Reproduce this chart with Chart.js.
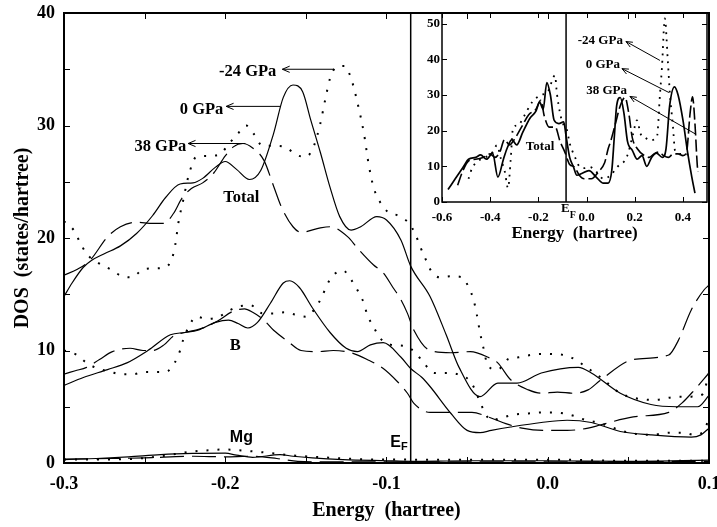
<!DOCTYPE html>
<html>
<head>
<meta charset="utf-8">
<script src="https://cdn.jsdelivr.net/npm/chart.js@4/dist/chart.umd.min.js"></script>
<style>
html, body { margin: 0; padding: 0; background: #fff; }
#wrap { position: relative; width: 717px; height: 527px; }
#main { position: absolute; left: 0; top: 0; }
#inset { position: absolute; left: 412px; top: 0; }
</style>
</head>
<body>
<div id="wrap">
<canvas id="main" width="717" height="527"></canvas>
<canvas id="inset" width="296" height="250"></canvas>
</div>
<script>
// points are [energy (hartree), DOS (states/hartree)]
// solid = 0 GPa, dashed = 38 GPa, dotted = -24 GPa

const totalP0 = [[-0.3,14.8],[-0.295,16.0],[-0.288,17.4],[-0.283,18.0],[-0.275,18.6],[-0.265,19.3],[-0.255,20.4],
  [-0.245,22.0],[-0.237,23.6],[-0.228,24.8],[-0.22,24.9],[-0.214,25.3],[-0.206,26.3],[-0.2,26.8],[-0.193,26.1],
  [-0.185,25.2],[-0.178,26.0],[-0.17,29.3],[-0.164,32.5],[-0.158,33.6],[-0.152,33.0],[-0.147,30.5],[-0.141,27.6],
  [-0.135,24.5],[-0.129,21.9],[-0.122,20.7],[-0.116,21.0],[-0.106,21.9],[-0.1,21.6],[-0.091,19.8],[-0.085,17.5],
  [-0.073,14.8],[-0.063,11.4],[-0.055,8.5],[-0.042,5.9],[-0.031,7.1],[-0.019,7.1],[-0.004,8.0],[0.019,8.5],
  [0.027,8.0],[0.045,6.2],[0.064,5.2],[0.08,5.0],[0.093,5.0],[0.1,6.0]];
const totalP38 = [[-0.3,16.7],[-0.292,17.2],[-0.284,18.0],[-0.273,20.1],[-0.265,21.0],[-0.255,21.4],[-0.245,21.3],
  [-0.238,21.3],[-0.232,22.2],[-0.227,23.5],[-0.221,24.4],[-0.214,24.9],[-0.207,25.8],[-0.2,27.3],[-0.195,28.1],
  [-0.189,28.4],[-0.183,28.0],[-0.176,26.9],[-0.17,24.6],[-0.165,22.7],[-0.158,21.0],[-0.153,20.5],[-0.141,20.9],
  [-0.135,21.0],[-0.124,20.1],[-0.118,19.1],[-0.108,17.6],[-0.102,16.9],[-0.096,15.6],[-0.091,14.5],[-0.087,13.3],
  [-0.083,11.8],[-0.073,10.0],[-0.06,9.8],[-0.048,9.9],[-0.037,9.4],[-0.031,8.9],[-0.023,7.4],[-0.012,6.5],
  [-0.004,6.2],[0.006,6.3],[0.016,6.2],[0.025,6.5],[0.033,7.4],[0.053,9.2],[0.075,9.6],[0.081,10.9],[0.089,13.6],
  [0.097,15.4],[0.1,15.8]];
const totalM24 = [[-0.3,21.5],[-0.294,20.7],[-0.29,19.6],[-0.286,18.6],[-0.279,17.8],[-0.271,17.2],[-0.264,16.6],
  [-0.258,16.5],[-0.251,17.2],[-0.243,17.3],[-0.237,17.4],[-0.233,18.2],[-0.231,19.4],[-0.229,21.4],[-0.226,23.4],
  [-0.223,25.4],[-0.218,27.2],[-0.211,27.3],[-0.204,27.4],[-0.197,28.5],[-0.192,29.3],[-0.187,30.0],[-0.182,29.2],
  [-0.177,28.2],[-0.17,28.2],[-0.163,28.1],[-0.156,27.4],[-0.15,27.2],[-0.145,28.2],[-0.141,30.2],[-0.138,32.3],
  [-0.135,34.2],[-0.131,35.2],[-0.126,35.3],[-0.122,34.2],[-0.117,31.4],[-0.114,29.3],[-0.111,26.5],[-0.108,24.5],
  [-0.104,23.2],[-0.099,22.3],[-0.093,22.0],[-0.086,21.3],[-0.082,20.3],[-0.079,19.2],[-0.076,18.2],[-0.072,17.0],
  [-0.067,16.5],[-0.06,16.6],[-0.053,16.5],[-0.049,15.6],[-0.046,14.5],[-0.044,13.2],[-0.042,11.6],[-0.04,10.3],
  [-0.037,8.6],[-0.031,8.3],[-0.025,9.2],[-0.018,9.4],[-0.004,9.7],[0.01,9.6],[0.017,9.2],[0.024,8.5],[0.031,7.8],
  [0.037,7.1],[0.045,6.2],[0.053,5.8],[0.066,5.6],[0.081,5.9],[0.089,5.9],[0.096,6.1],[0.1,8.0]];

const boronP0 = [[-0.3,6.9],[-0.288,7.6],[-0.273,8.3],[-0.261,8.9],[-0.248,10.0],[-0.234,11.4],[-0.225,11.6],
  [-0.217,11.8],[-0.206,12.5],[-0.198,12.7],[-0.192,12.4],[-0.186,12.0],[-0.18,12.5],[-0.172,14.2],[-0.164,16.0],
  [-0.16,16.2],[-0.154,15.6],[-0.146,13.8],[-0.135,11.6],[-0.125,10.2],[-0.118,9.9],[-0.11,10.5],[-0.102,10.7],
  [-0.091,9.4],[-0.085,8.4],[-0.078,7.6],[-0.073,6.8],[-0.06,4.4],[-0.05,2.9],[-0.042,2.7],[-0.035,2.9],
  [-0.023,3.2],[-0.004,3.6],[0.012,3.8],[0.027,3.6],[0.045,2.8],[0.064,2.5],[0.089,2.3],[0.095,2.5],[0.1,3.1]];
const boronP38 = [[-0.3,7.9],[-0.293,8.2],[-0.286,8.5],[-0.278,9.2],[-0.27,9.9],[-0.259,10.2],[-0.251,10.0],
  [-0.245,10.0],[-0.238,10.5],[-0.232,11.3],[-0.225,11.6],[-0.216,11.9],[-0.205,12.6],[-0.195,13.5],[-0.188,13.7],
  [-0.183,13.4],[-0.176,12.7],[-0.17,11.8],[-0.161,10.8],[-0.153,10.0],[-0.143,9.9],[-0.133,10.0],[-0.122,9.8],
  [-0.112,9.2],[-0.102,8.4],[-0.093,7.2],[-0.087,6.2],[-0.083,5.3],[-0.073,4.5],[-0.06,4.5],[-0.047,4.5],
  [-0.037,4.1],[-0.026,3.5],[-0.016,3.1],[-0.003,2.9],[0.012,2.9],[0.025,3.1],[0.033,3.4],[0.053,4.1],
  [0.075,4.5],[0.083,5.3],[0.091,6.5],[0.1,8.0]];
const boronM24 = [[-0.3,10.0],[-0.295,9.8],[-0.292,9.6],[-0.286,8.9],[-0.279,8.4],[-0.271,8.1],[-0.265,7.9],
  [-0.257,7.9],[-0.25,8.1],[-0.243,8.1],[-0.237,8.1],[-0.231,9.0],[-0.228,10.0],[-0.226,11.0],[-0.223,12.0],
  [-0.218,13.0],[-0.211,12.8],[-0.204,13.0],[-0.197,13.6],[-0.192,13.9],[-0.184,14.0],[-0.177,13.3],[-0.17,13.3],
  [-0.163,13.4],[-0.157,13.2],[-0.15,13.0],[-0.144,13.8],[-0.14,14.8],[-0.137,15.8],[-0.133,16.7],[-0.127,17.1],
  [-0.121,16.1],[-0.117,15.1],[-0.114,14.2],[-0.112,13.2],[-0.108,12.1],[-0.104,11.1],[-0.097,10.5],[-0.089,10.4],
  [-0.082,9.8],[-0.077,8.9],[-0.07,8.0],[-0.063,8.0],[-0.056,7.9],[-0.049,7.4],[-0.045,6.5],[-0.042,5.4],
  [-0.035,3.8],[-0.029,4.0],[-0.021,4.3],[-0.012,4.4],[-0.004,4.5],[0.003,4.5],[0.01,4.4],[0.016,4.2],[0.024,3.8],
  [0.031,3.6],[0.05,2.7],[0.064,2.5],[0.076,2.7],[0.084,2.7],[0.091,2.5],[0.097,2.9],[0.1,4.0]];

const mgP0 = [[-0.3,0.3],[-0.28,0.4],[-0.26,0.55],[-0.24,0.75],[-0.22,0.85],[-0.2,0.87],[-0.193,0.7],[-0.183,0.5],
  [-0.166,0.75],[-0.158,0.6],[-0.146,0.45],[-0.127,0.3],[-0.1,0.2],[-0.085,0.15],[-0.05,0.2],[0.0,0.2],[0.05,0.15],[0.1,0.25]];
const mgP38 = [[-0.3,0.35],[-0.27,0.4],[-0.25,0.45],[-0.22,0.6],[-0.2,0.55],[-0.185,0.6],[-0.168,0.4],[-0.155,0.15],
  [-0.14,0.1],[-0.1,0.1],[0.0,0.1],[0.1,0.15]];
const mgM24 = [[-0.3,0.3],[-0.26,0.35],[-0.24,0.6],[-0.222,1.0],[-0.208,1.15],[-0.201,1.2],[-0.186,1.07],[-0.173,0.9],
  [-0.16,0.7],[-0.145,0.55],[-0.118,0.35],[-0.085,0.3],[-0.05,0.3],[0.0,0.3],[0.05,0.2],[0.1,0.2]];

// inset: total DOS over the wider window
const insetP0 = [[-0.575,3.5],[-0.545,6.5],[-0.51,10],[-0.49,12],[-0.46,12.5],[-0.44,13.2],[-0.415,12],[-0.39,13.7],
  [-0.368,7],[-0.345,12],[-0.33,15],[-0.31,17.5],[-0.29,16],[-0.265,19.5],[-0.235,23.5],[-0.21,25.5],[-0.195,28],
  [-0.18,26],[-0.165,33.5],[-0.15,30],[-0.135,23],[-0.115,22],[-0.095,22.5],[-0.085,18.5],[-0.07,12.5],[-0.055,10],
  [-0.04,7.5],[-0.02,8],[0.01,8.8],[0.04,7],[0.07,5.3],[0.09,5.3],[0.105,9],[0.115,18],[0.125,27],[0.14,29.3],
  [0.155,25],[0.17,17],[0.19,14.5],[0.21,12],[0.23,13],[0.25,10],[0.27,12.5],[0.29,13.7],[0.315,12.5],[0.33,15],
  [0.345,27],[0.365,32.3],[0.38,30],[0.4,23],[0.42,13.7],[0.437,7],[0.45,2.5]];
const insetP38 = [[-0.535,4.7],[-0.515,8.5],[-0.49,11.5],[-0.46,12],[-0.43,12.5],[-0.4,13.5],[-0.38,12.5],[-0.36,14],
  [-0.34,17.5],[-0.32,16],[-0.3,17.5],[-0.27,21],[-0.24,24.5],[-0.21,26],[-0.19,28.5],[-0.175,24],[-0.155,21],
  [-0.13,21],[-0.11,17],[-0.09,14],[-0.07,10.5],[-0.05,9.8],[-0.03,7.5],[-0.01,6.5],[0.02,6.5],[0.05,8.5],
  [0.075,11],[0.09,15],[0.1,17],[0.12,22],[0.14,27],[0.16,29.3],[0.175,25],[0.19,18],[0.21,15],[0.24,13],
  [0.26,12.5],[0.28,13.5],[0.3,14],[0.32,13],[0.34,12.5],[0.36,13.5],[0.38,13.5],[0.4,13],[0.415,14],[0.43,25],
  [0.44,29.5],[0.45,22],[0.46,10],[0.463,8.5]];
const insetM24 = [[-0.49,6.5],[-0.475,9.5],[-0.45,11.5],[-0.42,12.5],[-0.39,14],[-0.372,15.9],[-0.355,12],
  [-0.339,8.4],[-0.326,3.9],[-0.315,11.7],[-0.305,20.9],[-0.285,21.5],[-0.26,24],[-0.227,27.9],[-0.193,29.9],
  [-0.16,31],[-0.131,35.5],[-0.123,30.4],[-0.11,24.9],[-0.095,21.5],[-0.081,20.1],[-0.07,16.5],[-0.048,12.6],
  [-0.03,10],[-0.01,9.5],[0.014,9.8],[0.04,8.5],[0.07,6.5],[0.1,7.5],[0.13,10],[0.167,12.6],[0.193,19],
  [0.209,22.9],[0.225,19],[0.242,18.2],[0.26,17.3],[0.292,18.2],[0.305,30.4],[0.313,37.7],[0.325,51.5],
  [0.337,40],[0.346,30.4],[0.359,20.9],[0.367,14.5],[0.39,13.5],[0.41,13.5],[0.43,13]];

const fermiLevel = -0.085;

// tick values (labels only where they fall on the label step)
const mainXTicks = [-0.3, -0.25, -0.2, -0.15, -0.1, -0.05, 0.0, 0.05, 0.1];
const mainYTicks = [0, 5, 10, 15, 20, 25, 30, 35, 40];
const insetXTicks = [-0.6, -0.4, -0.2, 0.0, 0.2, 0.4];
const insetYTicks = [0, 10, 20, 30, 40, 50];

// text notes, placed in data units
const mainLabels = [
  { text: '-24 GPa', x: -0.1683, y: 34.8, align: 'right' },
  { text: '0 GPa', x: -0.2012, y: 31.4, align: 'right' },
  { text: '38 GPa', x: -0.2242, y: 28.1, align: 'right' },
  { text: 'Total', x: -0.19, y: 23.6, align: 'center' },
  { text: 'B', x: -0.1938, y: 10.4, align: 'center' },
  { text: 'Mg', x: -0.19, y: 2.3, align: 'center', sans: true }
];
const mainArrows = [
  [-0.133, 35.0, -0.1646, 35.0],
  [-0.1658, 31.7, -0.1994, 31.7],
  [-0.1876, 28.4, -0.223, 28.4]
];
const insetLabels = [
  { text: '-24 GPa', x: 0.151, y: 45.3, align: 'right' },
  { text: '0 GPa', x: 0.139, y: 38.5, align: 'right' },
  { text: '38 GPa', x: 0.168, y: 31.3, align: 'right' },
  { text: 'Total', x: -0.193, y: 15.4, align: 'center' }
];
const insetArrows = [
  [0.3046, 39.7, 0.1635, 45.0],
  [0.342, 30.7, 0.147, 37.4],
  [0.454, 19.0, 0.18, 29.6]
];

const serif = 'Liberation Serif';
const sans = 'Liberation Sans';
Chart.defaults.font.family = serif;
Chart.defaults.color = '#000';

function isStep(v, step) {
  const r = v / step;
  return Math.abs(r - Math.round(r)) < 1e-6;
}
function fmt(v) {
  return (Math.abs(v) < 1e-9 ? 0 : v).toFixed(1);
}

function line(data, kind, w, dash) {
  return {
    data: data.map(p => ({ x: p[0], y: p[1] })),
    borderColor: '#000',
    borderWidth: w,
    borderDash: dash || [],
    borderCapStyle: 'butt',
    pointRadius: 0,
    fill: false,
    cubicInterpolationMode: 'monotone'
  };
}

// box, inward ticks on all four sides, Fermi level line
const frame = {
  id: 'frame',
  afterDatasetsDraw(chart, args, o) {
    const { ctx, chartArea: a, scales: { x, y } } = chart;
    ctx.save();
    ctx.strokeStyle = '#000';
    ctx.lineWidth = 1;
    ctx.beginPath();
    x.ticks.forEach(t => {
      const px = Math.round(x.getPixelForValue(t.value)) + 0.5;
      ctx.moveTo(px, a.bottom); ctx.lineTo(px, a.bottom - o.len);
      ctx.moveTo(px, a.top); ctx.lineTo(px, a.top + o.len);
    });
    y.ticks.forEach(t => {
      const py = Math.round(y.getPixelForValue(t.value)) + 0.5;
      ctx.moveTo(a.left, py); ctx.lineTo(a.left + o.len, py);
      ctx.moveTo(a.right, py); ctx.lineTo(a.right - o.len, py);
    });
    ctx.stroke();
    ctx.lineWidth = o.box;
    ctx.strokeRect(a.left, a.top, a.right - a.left, a.bottom - a.top);
    const ef = x.getPixelForValue(fermiLevel);
    ctx.lineWidth = 1.5;
    ctx.beginPath();
    ctx.moveTo(ef, a.top); ctx.lineTo(ef, a.bottom);
    ctx.stroke();
    ctx.restore();
  }
};

const notes = {
  id: 'notes',
  afterDatasetsDraw(chart, args, o) {
    const { ctx, chartArea: a, scales: { x, y } } = chart;
    ctx.save();
    ctx.fillStyle = '#000';
    ctx.strokeStyle = '#000';
    ctx.lineWidth = 1;
    ctx.textBaseline = 'middle';
    o.labels.forEach(l => {
      ctx.font = 'bold ' + (l.sans ? o.sansSize : o.size) + 'px ' + (l.sans ? sans : serif);
      ctx.textAlign = l.align;
      ctx.fillText(l.text, x.getPixelForValue(l.x), y.getPixelForValue(l.y));
    });
    o.arrows.forEach(r => {
      const x1 = x.getPixelForValue(r[0]), y1 = y.getPixelForValue(r[1]);
      const x2 = x.getPixelForValue(r[2]), y2 = y.getPixelForValue(r[3]);
      const ang = Math.atan2(y1 - y2, x1 - x2);
      ctx.beginPath();
      ctx.moveTo(x1, y1); ctx.lineTo(x2, y2);
      [-0.4, 0.4].forEach(s => {
        ctx.moveTo(x2, y2);
        ctx.lineTo(x2 + o.head * Math.cos(ang + s), y2 + o.head * Math.sin(ang + s));
      });
      ctx.stroke();
    });
    // E_F label
    const ef = x.getPixelForValue(fermiLevel);
    ctx.textBaseline = 'alphabetic';
    ctx.textAlign = 'left';
    const f = o.ef;
    ctx.font = 'bold ' + f.size + 'px ' + f.family;
    const wE = ctx.measureText('E').width;
    ctx.font = 'bold ' + f.sub + 'px ' + f.family;
    const wF = ctx.measureText('F').width;
    const base = f.inside ? y.getPixelForValue(f.y) : a.bottom + f.dy;
    const left = f.inside ? ef - f.gap - wF - wE : ef + f.gap;
    ctx.font = 'bold ' + f.size + 'px ' + f.family;
    ctx.fillText('E', left, base);
    ctx.font = 'bold ' + f.sub + 'px ' + f.family;
    ctx.fillText('F', left + wE, base + f.drop);
    ctx.restore();
  }
};

function fixX(h) {
  return s => { s.height = h; s.paddingLeft = 0; s.paddingRight = 0; s.paddingTop = 0; s.paddingBottom = 0; };
}
function fixY(w) {
  return s => { s.width = w; s.paddingLeft = 0; s.paddingRight = 0; s.paddingTop = 0; s.paddingBottom = 0; };
}
function useTicks(values) {
  return s => { s.ticks = values.map(v => ({ value: v })); };
}

const common = { responsive: false, animation: false, devicePixelRatio: 1 };

new Chart(document.getElementById('main'), {
  type: 'line',
  data: {
    datasets: [
      line(totalP0, 'solid', 1.2), line(totalP38, 'dashed', 1.2, [24, 8]), line(totalM24, 'dotted', 2, [2, 9]),
      line(boronP0, 'solid', 1.2), line(boronP38, 'dashed', 1.2, [24, 8]), line(boronM24, 'dotted', 2, [2, 9]),
      line(mgP0, 'solid', 1.2), line(mgP38, 'dashed', 1.2, [24, 8]), line(mgM24, 'dotted', 2, [2, 9])
    ]
  },
  options: {
    ...common,
    layout: { autoPadding: false, padding: { top: 13, right: 8, left: 0, bottom: 0 } },
    plugins: {
      legend: { display: false },
      tooltip: { enabled: false },
      frame: { len: 6, box: 2 },
      notes: {
        labels: mainLabels, arrows: mainArrows, size: 16.5, sansSize: 16, head: 8,
        ef: { inside: true, family: sans, size: 16, sub: 11, y: 1.4, gap: 3, drop: 3 }
      }
    },
    scales: {
      x: {
        type: 'linear', min: -0.3, max: 0.1,
        afterBuildTicks: useTicks(mainXTicks),
        afterFit: fixX(64),
        grid: { display: false, drawTicks: false },
        border: { display: false },
        ticks: {
          autoSkip: false, maxRotation: 0, padding: 11,
          font: { family: serif, size: 18, weight: 'bold' },
          callback: v => isStep(v, 0.1) ? fmt(v) : ''
        },
        title: {
          display: true, text: 'Energy  (hartree)',
          font: { family: serif, size: 20, weight: 'bold' },
          padding: { top: 0, bottom: 4 }
        }
      },
      y: {
        type: 'linear', min: 0, max: 40,
        afterBuildTicks: useTicks(mainYTicks),
        afterFit: fixY(64),
        grid: { display: false, drawTicks: false },
        border: { display: false },
        ticks: {
          autoSkip: false, padding: 9,
          font: { family: serif, size: 18, weight: 'bold' },
          callback: v => isStep(v, 10) ? String(v) : ''
        },
        title: {
          display: true, text: 'DOS  (states/hartree)',
          font: { family: serif, size: 20, weight: 'bold' },
          padding: { top: 11, bottom: 0 }
        }
      }
    }
  },
  plugins: [frame, notes]
});

new Chart(document.getElementById('inset'), {
  type: 'line',
  data: {
    datasets: [
      line(insetP0, 'solid', 1.7), line(insetP38, 'dashed', 1.6, [12, 4]), line(insetM24, 'dotted', 1.8, [1.8, 5.5])
    ]
  },
  options: {
    ...common,
    layout: { autoPadding: false, padding: { top: 13, right: 1, left: 0, bottom: 0 } },
    plugins: {
      legend: { display: false },
      tooltip: { enabled: false },
      frame: { len: 5, box: 1.5 },
      notes: {
        labels: insetLabels, arrows: insetArrows, size: 13, sansSize: 13, head: 7,
        ef: { inside: false, family: serif, size: 13, sub: 10, dy: 10, gap: -5, drop: 6 }
      }
    },
    scales: {
      x: {
        type: 'linear', min: -0.6, max: 0.5,
        afterBuildTicks: useTicks(insetXTicks),
        afterFit: fixX(48),
        grid: { display: false, drawTicks: false },
        border: { display: false },
        ticks: {
          autoSkip: false, maxRotation: 0, padding: 8,
          font: { family: serif, size: 13, weight: 'bold' },
          callback: v => fmt(v)
        },
        title: {
          display: true, text: 'Energy  (hartree)',
          font: { family: serif, size: 17, weight: 'bold' },
          padding: { top: 0, bottom: 6 }
        }
      },
      y: {
        type: 'linear', min: 0, max: 53,
        afterBuildTicks: useTicks(insetYTicks),
        afterFit: fixY(30),
        grid: { display: false, drawTicks: false },
        border: { display: false },
        ticks: {
          autoSkip: false, padding: 2,
          font: { family: serif, size: 13, weight: 'bold' },
          callback: v => String(v)
        }
      }
    }
  },
  plugins: [frame, notes]
});
</script>
</body>
</html>
